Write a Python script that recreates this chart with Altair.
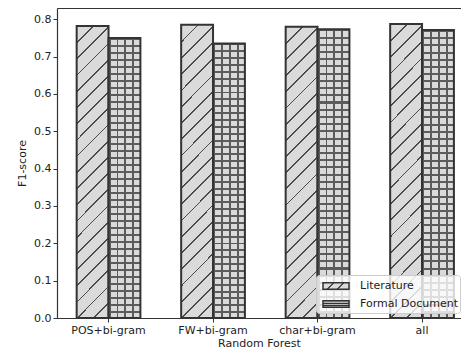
import altair as alt
import pandas as pd

categories = ["POS+bi-gram", "FW+bi-gram", "char+bi-gram", "all"]
series_names = ["Literature", "Formal Document"]
literature = [0.782, 0.785, 0.780, 0.787]
formal = [0.750, 0.735, 0.773, 0.771]
y_ticks = [0.0, 0.1, 0.2, 0.3, 0.4, 0.5, 0.6, 0.7, 0.8]

rows = []
for c, a, b in zip(categories, literature, formal):
    rows.append({"category": c, "series": "Literature", "value": a})
    rows.append({"category": c, "series": "Formal Document", "value": b})
df = pd.DataFrame(rows)

FILL = "#dadada"
LINE = "#4a4a4a"
GRID = "#5c5c5c"
EDGE = "#333333"
FONT = "DejaVu Sans"


def stripe_stops(n, frac, line, bg):
    stops = []
    for k in range(n):
        a = k / n
        b = a + frac / n
        stops += [(a, line), (b, line), (b, bg), ((k + 1) / n, bg)]
    return [alt.GradientStop(offset=min(1.0, o), color=c) for o, c in stops]


# diagonal hatch for Literature bars
lit_grad = alt.LinearGradient(
    gradient="linear", x1=0, y1=0, x2=0.1202, y2=1.0964,
    stops=stripe_stops(20, 0.11, LINE, FILL),
)
# vertical lines for Formal Document
v_grad = alt.LinearGradient(
    gradient="linear", x1=0, y1=0, x2=1, y2=0,
    stops=stripe_stops(4, 0.25, GRID, FILL),
)
# horizontal lines (transparent background)
h_grad = alt.LinearGradient(
    gradient="linear", x1=0, y1=0, x2=0, y2=1,
    stops=stripe_stops(40, 0.286, GRID, "rgba(0,0,0,0)"),
)


def js_grad(x2, y2, n, frac, line, bg):
    parts = []
    for k in range(n):
        a = k / n
        b = a + frac / n
        parts += [f"{{offset:{a:.4f},color:'{line}'}}", f"{{offset:{b:.4f},color:'{line}'}}",
                  f"{{offset:{b:.4f},color:'{bg}'}}", f"{{offset:{(k + 1) / n:.4f},color:'{bg}'}}"]
    return ("{gradient:'linear',x1:0,y1:0,x2:%s,y2:%s,stops:[%s]}" % (x2, y2, ",".join(parts)))


legend_lit = alt.ExprRef(js_grad(1.07, 0.29, 3, 0.18, LINE, FILL))
legend_formal = alt.ExprRef(js_grad(0, 1, 3, 0.3, "#333333", "#b8b8b8"))

x_enc = alt.X(
    "category:N", sort=categories,
    scale=alt.Scale(paddingInner=0.39, paddingOuter=0.128, align=0.735),
    axis=alt.Axis(title="Random Forest", labelAngle=0, tickSize=4, labelPadding=2,
                  titlePadding=2),
)
xo_enc = alt.XOffset("series:N", sort=series_names, scale=alt.Scale(domain=series_names))
y_enc = alt.Y(
    "value:Q",
    scale=alt.Scale(domain=[0, 0.83], nice=False, zero=True),
    axis=alt.Axis(title="F1-score", values=y_ticks, format=".1f", grid=False,
                  tickSize=4, labelPadding=2, titlePadding=6),
)

base = alt.Chart(df).encode(x=x_enc, xOffset=xo_enc, y=y_enc)

legend_layer = base.mark_bar(opacity=0).encode(
    x=alt.X("category:N", sort=categories,
            axis=alt.Axis(orient="top", labels=False, ticks=False, title=None,
                          domain=True)),
    fill=alt.Fill(
        "series:N", sort=series_names,
        scale=alt.Scale(domain=series_names, range=[legend_lit, legend_formal]),
        legend=alt.Legend(
            title=None, orient="none", legendX=259, legendY=267,
            symbolType="M-1.625,-0.42H1.625V0.42H-1.625Z", symbolSize=256,
            symbolStrokeColor=EDGE, symbolStrokeWidth=1.5, symbolOpacity=1,
            symbolOffset=9, labelOffset=15,
            labelFont=FONT, labelFontSize=11, labelColor="#222",
            padding=2, rowPadding=2,
            fillColor="rgba(255,255,255,0.8)", strokeColor="#cccccc",
            cornerRadius=3,
        ),
    ),
)

lit_layer = base.transform_filter(alt.datum.series == "Literature").mark_bar(
    fill=lit_grad, stroke=EDGE, strokeWidth=2
)
formal_v = base.transform_filter(alt.datum.series == "Formal Document").mark_bar(
    fill=v_grad, strokeWidth=0
)
formal_h = base.transform_filter(alt.datum.series == "Formal Document").mark_bar(
    fill=h_grad, stroke=EDGE, strokeWidth=2
)

bars = alt.layer(lit_layer, formal_v, formal_h)

chart = alt.layer(legend_layer, bars).resolve_axis(x="independent").properties(
    width=404, height=310,
    padding={"left": 8, "top": 0, "right": 0, "bottom": 0},
).configure_view(strokeWidth=0).configure_axis(
    domainColor=EDGE, tickColor=EDGE, labelColor="#222", titleColor="#222",
    labelFont=FONT, titleFont=FONT, labelFontSize=11, titleFontSize=11,
    titleFontWeight="normal", domainWidth=1.2,
)

chart.save("out.html", embed_options={"renderer": "svg", "actions": False})
